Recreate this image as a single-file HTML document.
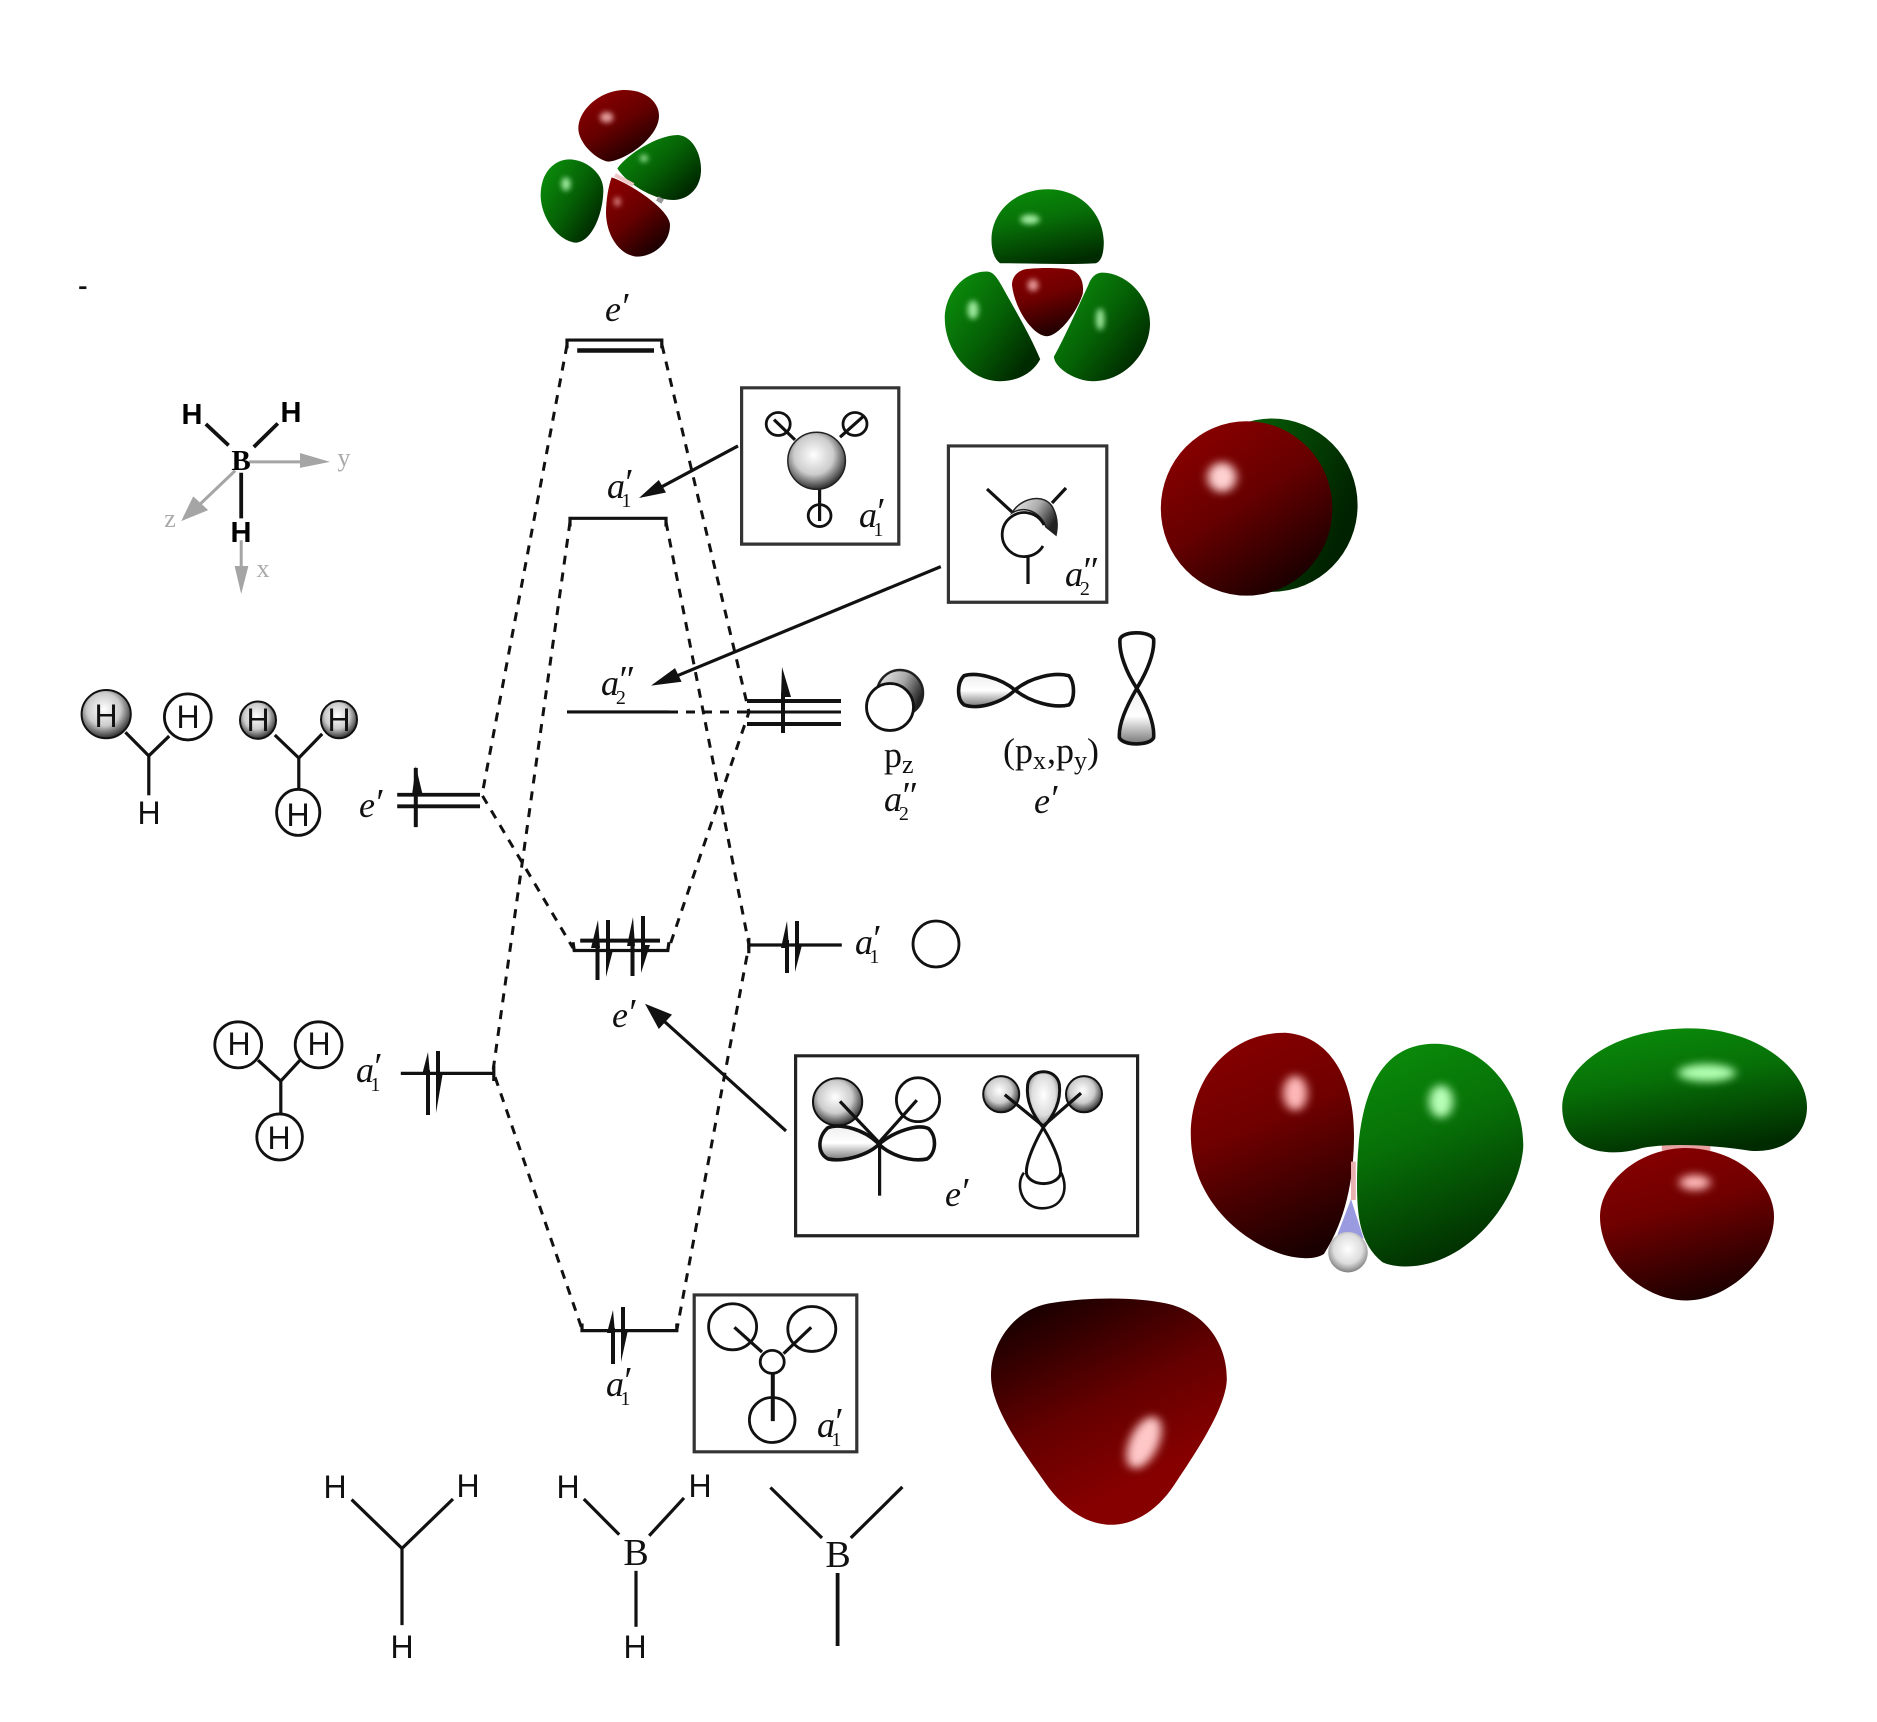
<!DOCTYPE html>
<html><head><meta charset="utf-8"><style>
html,body{margin:0;padding:0;background:#fff}
svg{display:block}
line,path,polyline,ellipse,polygon,rect{vector-effect:non-scaling-stroke}
.k{stroke:#111;fill:none;stroke-width:3.2}
.k line,.k path,.k polyline{fill:none}
.w{fill:#fff;stroke:#111;stroke-width:2.8}
.d{stroke:#111;stroke-width:3;fill:none;stroke-dasharray:9 8}
.i{font-family:"Liberation Serif",serif;font-style:italic;font-size:36px;fill:#111}
.s{font-family:"Liberation Serif",serif;font-style:normal;font-size:20px}
.p{font-family:"Liberation Serif",serif;font-style:italic;font-size:38px}
.h{font-family:"Liberation Sans",sans-serif;font-size:32px;fill:#111;text-anchor:middle}
.b{font-family:"Liberation Sans",sans-serif;font-size:29px;font-weight:bold;fill:#000;text-anchor:middle}
.r{font-family:"Liberation Serif",serif;font-size:38px;fill:#111;text-anchor:middle}
.g{font-family:"Liberation Serif",serif;font-size:26px;fill:#aaa;text-anchor:middle}
.t{font-family:"Liberation Serif",serif;font-size:36px;fill:#111}
</style></head><body>
<svg width="1877" height="1722" viewBox="0 0 1877 1722" xmlns="http://www.w3.org/2000/svg">
<defs>
<linearGradient id="rv" x1=".3" y1="0" x2=".6" y2="1"><stop offset="0" stop-color="#860000"/><stop offset=".4" stop-color="#700000"/><stop offset="1" stop-color="#1a0000"/></linearGradient>
<linearGradient id="rb" x1=".25" y1=".02" x2=".65" y2=".8"><stop offset="0" stop-color="#1c0000"/><stop offset=".55" stop-color="#640000"/><stop offset="1" stop-color="#860000"/></linearGradient>
<linearGradient id="rs" x1=".2" y1=".1" x2=".75" y2=".95"><stop offset="0" stop-color="#860000"/><stop offset=".45" stop-color="#660000"/><stop offset="1" stop-color="#1a0000"/></linearGradient>
<linearGradient id="gv" x1=".3" y1="0" x2=".6" y2="1"><stop offset="0" stop-color="#0a8a0a"/><stop offset=".4" stop-color="#077007"/><stop offset="1" stop-color="#002a00"/></linearGradient>
<linearGradient id="gd" x1=".1" y1=".2" x2=".85" y2=".85"><stop offset="0" stop-color="#0a860a"/><stop offset=".5" stop-color="#056005"/><stop offset="1" stop-color="#002a00"/></linearGradient>
<linearGradient id="gs" x1="0" y1="0" x2="1" y2=".4"><stop offset="0" stop-color="#0a7a0a"/><stop offset="1" stop-color="#002200"/></linearGradient>
<radialGradient id="o" cx=".45" cy=".4" r=".62"><stop offset="0" stop-color="#fff"/><stop offset=".55" stop-color="#ccc"/><stop offset="1" stop-color="#222"/></radialGradient>
<radialGradient id="o2" cx=".5" cy=".42" r=".6"><stop offset="0" stop-color="#fff"/><stop offset=".6" stop-color="#ddd"/><stop offset="1" stop-color="#777"/></radialGradient>
<linearGradient id="cr" x1="0" y1="0" x2="1" y2=".5"><stop offset="0" stop-color="#f4f4f4"/><stop offset=".55" stop-color="#aaa"/><stop offset="1" stop-color="#222"/></linearGradient>
<linearGradient id="l" x1="0" y1="0" x2="0" y2="1"><stop offset="0" stop-color="#eee"/><stop offset=".5" stop-color="#fff"/><stop offset="1" stop-color="#777"/></linearGradient>
<filter id="bl" x="-150%" y="-150%" width="400%" height="400%"><feGaussianBlur stdDeviation="8"/></filter>
<filter id="bs" x="-150%" y="-150%" width="400%" height="400%"><feGaussianBlur stdDeviation="5"/></filter>
</defs>

<!-- dashed connectors -->
<g class="d">
<path d="M567 345L482 795L573 948"/>
<path d="M662 345L749 712L669 948"/>
<path d="M570 522L493 1071L582 1329"/>
<path d="M666 522L749 945L677 1329"/>
<path d="M669 712H749"/>
</g>

<!-- top four-lobed orbital -->
<g transform="translate(540 80) scale(.3333)">
<path fill="url(#rs)" d="M205 245C170 240 115 190 115 145C115 90 180 30 255 30C315 30 357 65 357 108C357 170 260 240 205 245Z"/>
<path fill="url(#gd)" d="M232 265C260 225 350 165 415 165C460 170 485 225 483 275C480 330 440 360 400 360C340 360 260 310 232 265Z"/>
<path fill="url(#gd)" d="M2 345C2 280 40 238 90 238C140 240 190 280 190 330C190 400 155 488 105 488C50 480 2 410 2 345Z"/>
<path d="M352 355L368 365" stroke="#999" stroke-width="5"/>
<path d="M225 285L280 315" stroke="#f0c8c8" stroke-width="4"/>
<path fill="url(#rs)" d="M215 292C270 310 390 390 390 435C390 490 340 530 290 530C240 525 200 470 198 400C198 360 205 320 215 292Z"/>
<g filter="url(#bl)" opacity=".85"><ellipse cx="200" cy="112" rx="20" ry="16" fill="#f8b8b8"/><ellipse cx="232" cy="365" rx="10" ry="14" fill="#f0a0a0"/><ellipse cx="312" cy="235" rx="12" ry="11" fill="#b0f8b0"/><ellipse cx="78" cy="312" rx="14" ry="20" fill="#b8ffb8"/></g>
</g>

<!-- Q1 -->
<g transform="scale(.6 .5485)">
<rect x="132" y="522" width="12" height="5" fill="#111"/>

<!-- BH3 axes -->
<g stroke="#a5a5a5" stroke-width="3" fill="#a5a5a5">
<line x1="415" y1="842" x2="510" y2="842"/><polygon points="500,826 550,842 500,853" stroke="none"/>
<line x1="392" y1="858" x2="325" y2="928"/><polygon points="302,950 322,905 347,930" stroke="none"/>
<line x1="402" y1="985" x2="402" y2="1040"/><polygon points="402,1083 391,1032 414,1032" stroke="none"/>
</g>
<g class="k" style="stroke-width:3.8">
<line x1="343" y1="773" x2="381" y2="812"/><line x1="463" y1="772" x2="423" y2="815"/><line x1="402" y1="862" x2="402" y2="945"/>
</g>

<!-- top levels -->
<g class="k">
<path d="M945 635V620H1103V635"/>
<line x1="962" y1="639" x2="1090" y2="639" style="stroke-width:4.5"/>
<path d="M950 960V945H1110V960"/>
<line x1="945" y1="1298" x2="1115" y2="1298"/>
<line x1="662" y1="1449" x2="800" y2="1449" style="stroke-width:3.8"/><line x1="662" y1="1470" x2="800" y2="1470" style="stroke-width:3.8"/>
<line x1="693" y1="1508" x2="693" y2="1400" style="stroke-width:4"/>
</g>
<polygon points="693,1397 704,1447 687,1447" fill="#111"/>

<!-- arrows -->
<g stroke="#111" stroke-width="3.2">
<line x1="1230" y1="813" x2="1085" y2="898"/><line x1="1568" y1="1033" x2="1120" y2="1236"/>
</g>
<polygon points="1065,908 1098,875 1110,898" fill="#111"/>
<polygon points="1085,1250 1125,1218 1136,1243" fill="#111"/>

<!-- a1' box -->
<rect x="1236" y="707" width="262" height="285" fill="none" stroke="#333" stroke-width="3.2"/>
<ellipse class="w" cx="1297" cy="773" rx="20" ry="21"/><ellipse class="w" cx="1425" cy="773" rx="20" ry="21"/><ellipse class="w" cx="1366" cy="940" rx="19" ry="20"/>
<g class="k"><line x1="1290" y1="765" x2="1325" y2="802"/><line x1="1438" y1="760" x2="1400" y2="797"/><line x1="1366" y1="890" x2="1366" y2="950"/></g>
<ellipse cx="1361" cy="840" rx="48" ry="52" fill="url(#o)" stroke="#222" stroke-width="1.5"/>

<!-- molecules -->
<g class="k">
<path d="M209 1335L248 1378L282 1342"/><line x1="248" y1="1378" x2="248" y2="1450"/>
<path d="M458 1340L498 1382L537 1338"/><line x1="498" y1="1382" x2="498" y2="1442"/>
</g>
<ellipse cx="177" cy="1302" rx="41" ry="44" fill="url(#o)" stroke="#111" stroke-width="2"/>
<ellipse class="w" cx="313" cy="1307" rx="39" ry="42"/>
<ellipse cx="430" cy="1313" rx="30" ry="34" fill="url(#o)" stroke="#111" stroke-width="2"/>
<ellipse cx="565" cy="1312" rx="30" ry="34" fill="url(#o)" stroke="#111" stroke-width="2"/>
<ellipse class="w" cx="497" cy="1481" rx="36" ry="42"/>
</g>

<!-- triple level + pz -->
<g stroke="#111">
<line x1="747" y1="701" x2="841" y2="701" stroke-width="4"/><line x1="745" y1="712" x2="841" y2="712" stroke-width="3"/><line x1="747" y1="724" x2="841" y2="724" stroke-width="4"/>
<line x1="783" y1="693" x2="783" y2="733" stroke-width="4"/>
</g>
<polygon points="782,667 781,697 791,697" fill="#111"/>
<circle cx="900" cy="693" r="23" fill="url(#cr)" stroke="#222" stroke-width="2.5"/>
<circle cx="890" cy="707" r="23.5" class="w"/>

<!-- electron arrows -->
<g stroke="#111" stroke-width="4">
<line x1="597.5" y1="945" x2="597.5" y2="980"/><line x1="608" y1="920" x2="608" y2="950"/>
<line x1="632.5" y1="945" x2="632.5" y2="976"/><line x1="643" y1="916" x2="643" y2="946"/>
<line x1="787" y1="940" x2="787" y2="973"/><line x1="797" y1="921" x2="797" y2="948"/>
<line x1="428" y1="1070" x2="428" y2="1115"/><line x1="438" y1="1051" x2="438" y2="1075"/>
<line x1="613" y1="1328" x2="613" y2="1364"/><line x1="623" y1="1307" x2="623" y2="1332"/>
</g>
<g fill="#111">
<polygon points="598,920 591,948 600,948"/><polygon points="606,977 606,948 613,950"/>
<polygon points="633,917 627,946 635,946"/><polygon points="641,973 641,945 650,945"/>
<polygon points="787,921 781,948 789,948"/><polygon points="795,972 795,945 802,945"/>
<polygon points="428,1052 422,1075 430,1075"/><polygon points="436,1113 436,1072 443,1072"/>
<polygon points="613,1310 607,1333 615,1333"/><polygon points="621,1362 621,1330 628,1330"/>
</g>

<!-- Q2 -->
<g transform="translate(940 0) scale(.6 .5485)">
<path fill="url(#gv)" d="M100 480C88 470 85 450 86 430C90 380 130 345 180 345C235 345 272 390 273 440C273 460 270 475 260 480C210 483 150 480 100 480Z"/>
<path fill="url(#rv)" d="M120 520C120 500 135 490 150 490C170 488 200 488 220 492C235 500 240 515 238 535C230 565 200 612 178 613C155 612 125 565 120 520Z"/>
<path fill="url(#gd)" d="M8 580C8 540 35 495 78 495C90 495 97 510 105 525C125 565 150 610 167 655C155 680 130 695 100 695C50 695 8 640 8 580Z"/>
<path fill="url(#gd)" d="M270 497C310 497 350 540 350 590C350 640 310 695 255 695C225 695 190 670 190 650C210 610 230 560 247 520C252 505 260 497 270 497Z"/>
<g filter="url(#bs)" opacity=".85"><ellipse cx="150" cy="400" rx="16" ry="9" fill="#b8ffb8"/><ellipse cx="155" cy="520" rx="9" ry="11" fill="#f8b0b0"/><ellipse cx="55" cy="565" rx="9" ry="17" fill="#b8ffb8"/><ellipse cx="267" cy="582" rx="7" ry="20" fill="#b8ffb8"/></g>

<ellipse cx="553" cy="921" rx="143" ry="158" fill="url(#gs)"/>
<ellipse cx="511" cy="927" rx="143" ry="159" fill="url(#rs)"/>
<ellipse cx="470" cy="870" rx="24" ry="27" fill="#ffd0d0" filter="url(#bl)"/>

<!-- a2'' box -->
<rect x="14" y="813" width="264" height="285" fill="none" stroke="#333" stroke-width="3.2"/>

<!-- px, py -->
<path d="M125 1258C100 1235 60 1225 40 1232C28 1245 28 1275 40 1285C65 1295 105 1280 125 1258Z" fill="url(#l)" stroke="#111" stroke-width="3.6"/>
<path d="M125 1258C150 1235 190 1225 215 1232C225 1245 225 1275 215 1285C190 1292 150 1280 125 1258Z" fill="#fff" stroke="#111" stroke-width="3.6"/>
<path d="M328 1255C310 1225 298 1190 300 1165C305 1150 350 1150 356 1165C358 1190 345 1225 328 1255Z" fill="#fff" stroke="#111" stroke-width="3.6"/>
<path d="M328 1255C345 1285 358 1320 356 1345C350 1360 305 1360 299 1345C297 1320 312 1285 328 1255Z" fill="url(#l)" stroke="#111" stroke-width="3.6"/>
</g>

<!-- a2'' box drawing -->
<g class="k"><line x1="987" y1="489" x2="1012" y2="512"/><line x1="1066" y1="488" x2="1052" y2="503"/><line x1="1028" y1="555" x2="1028" y2="584"/></g>
<path d="M1012 513C1020 498 1045 492 1053 508C1059 520 1057 530 1056 535L1046 527C1040 512 1025 505 1012 513Z" fill="url(#cr)" stroke="#222" stroke-width="1.5"/>
<path d="M1043 546A22 22 0 1 1 1044 525" fill="none" stroke="#111" stroke-width="2.8"/>

<!-- Q3 -->
<g transform="translate(0 860) scale(.6 .5485)">
<g class="k">
<path d="M955 150L957 165H1113L1115 150"/>
<line x1="967" y1="147" x2="1100" y2="147" style="stroke-width:4"/>
<path d="M1248 142V170M1248 155H1403"/>
<path d="M668 389H822M823 375V403"/>
<path d="M970 845V858H1128V845"/>
</g>

<!-- arrow to lower e' -->
<line x1="1310" y1="494" x2="1105" y2="292" stroke="#111" stroke-width="3.2"/>
<polygon points="1075,262 1120,282 1098,308" fill="#111"/>

<!-- left a1' molecule -->
<g class="k"><path d="M430 365L468 403L500 365"/><line x1="468" y1="403" x2="468" y2="465"/></g>
<ellipse class="w" cx="397" cy="337" rx="39" ry="42"/><ellipse class="w" cx="531" cy="337" rx="39" ry="42"/><ellipse class="w" cx="466" cy="505" rx="38" ry="42"/>

<!-- bottom box -->
<rect x="1157" y="793" width="271" height="286" fill="none" stroke="#333" stroke-width="3.2"/>
<ellipse class="w" cx="1221" cy="851" rx="40" ry="42"/><ellipse class="w" cx="1353" cy="855" rx="40" ry="41"/><ellipse class="w" cx="1287" cy="1021" rx="38" ry="41"/>
<g class="k"><line x1="1224" y1="852" x2="1270" y2="897"/><line x1="1352" y1="852" x2="1306" y2="900"/><line x1="1288" y1="935" x2="1288" y2="1023" style="stroke-width:4"/></g>
<ellipse class="w" cx="1287" cy="915" rx="20" ry="21"/>

<!-- e' box left -->
<rect x="1326" y="357" width="570" height="328" fill="none" stroke="#222" stroke-width="3.2"/>
<ellipse cx="1396" cy="441" rx="41" ry="43" fill="url(#o)" stroke="#111" stroke-width="2"/>
<ellipse class="w" cx="1530" cy="437" rx="36" ry="40"/>
<path d="M1465 518C1440 490 1400 480 1380 488C1362 505 1362 535 1380 545C1410 552 1450 535 1465 518Z" fill="url(#l)" stroke="#111" stroke-width="3.6"/>
<path d="M1465 518C1490 495 1530 480 1548 490C1562 505 1560 535 1545 545C1515 552 1480 535 1465 518Z" fill="#fff" stroke="#111" stroke-width="3.6"/>
<g class="k"><path d="M1400 440L1465 515L1528 438"/><line x1="1466" y1="515" x2="1466" y2="612"/></g>

<!-- bottom structures -->
<g class="k">
<path d="M586 1166L670 1255L755 1165"/><line x1="670" y1="1255" x2="670" y2="1395"/>
<line x1="973" y1="1165" x2="1032" y2="1230"/><line x1="1140" y1="1163" x2="1082" y2="1232"/><line x1="1060" y1="1296" x2="1060" y2="1398"/>
<line x1="1284" y1="1144" x2="1370" y2="1236"/><line x1="1504" y1="1143" x2="1418" y2="1236"/><line x1="1396" y1="1300" x2="1396" y2="1433" style="stroke-width:3.8"/>
</g>
</g>

<!-- Q4 -->
<g transform="translate(940 860) scale(.6 .5485)">
<ellipse cx="102" cy="427" rx="30" ry="33" fill="url(#o)" stroke="#111" stroke-width="2"/>
<ellipse cx="240" cy="427" rx="30" ry="33" fill="url(#o)" stroke="#111" stroke-width="2"/>
<path d="M172 488C155 465 143 440 146 410C150 378 195 378 199 410C202 440 190 465 172 488Z" fill="url(#o2)" stroke="#111" stroke-width="3"/>
<path d="M140 570C125 590 135 635 170 635C205 635 215 600 202 570" fill="#fff" stroke="#111" stroke-width="2.6"/>
<path d="M172 488C155 520 140 560 145 575C155 595 190 595 200 575C205 560 190 520 172 488Z" fill="#fff" stroke="#111" stroke-width="3"/>
<g class="k"><path d="M108 428L172 485L235 425"/></g>

<path fill="url(#rv)" d="M640 718C625 730 590 728 560 715C490 685 418 610 418 500C418 400 480 315 575 315C650 320 690 400 690 500C690 570 680 650 640 718Z"/>
<path fill="url(#gv)" d="M737 733C700 700 695 650 695 590C695 480 710 335 825 335C910 335 975 430 972 525C965 620 880 742 775 741C760 741 745 738 737 733Z"/>
<rect x="685" y="550" width="8" height="70" fill="#e8b0b0"/>
<polygon points="685,618 660,690 706,690" fill="#9a9ae0"/>
<ellipse cx="680" cy="715" rx="33" ry="37" fill="url(#o2)"/>

<path fill="#e8a0a0" d="M1203 516H1284V530H1203Z"/>
<path fill="url(#rv)" d="M1100 650C1100 590 1160 528 1240 525C1330 525 1390 590 1390 650C1390 730 1310 803 1245 803C1170 803 1100 730 1100 650Z"/>
<path fill="url(#gv)" d="M1037 450C1040 370 1130 307 1250 307C1360 307 1445 380 1445 450C1445 510 1395 535 1350 530C1290 520 1220 515 1170 525C1110 545 1037 530 1037 450Z"/>

<path fill="url(#rb)" d="M85 940C85 880 125 815 190 807C250 797 320 797 370 807C440 820 478 880 478 945C478 1000 420 1090 390 1140C360 1190 320 1212 285 1212C250 1212 210 1190 175 1135C140 1080 85 1000 85 940Z"/>

<g filter="url(#bl)">
<ellipse cx="592" cy="425" rx="20" ry="32" fill="#ffb8b8"/>
<ellipse cx="835" cy="440" rx="20" ry="30" fill="#b8ffb8"/>
<ellipse cx="1278" cy="388" rx="48" ry="16" fill="#b0ffb0"/>
<ellipse cx="1258" cy="588" rx="26" ry="14" fill="#ffb8b8"/>
<ellipse cx="340" cy="1062" rx="24" ry="50" transform="rotate(22 340 1062)" fill="#ffc8c8"/>
</g>
</g>

<circle cx="936" cy="944" r="23" class="w"/>

<!-- Bold axes labels -->
<text class="b" x="192" y="424">H</text><text class="b" x="291" y="422">H</text>
<text class="b" x="241" y="470" style="font-family:'Liberation Serif',serif">B</text><text class="b" x="241" y="542">H</text>
<text class="g" x="344" y="466">y</text><text class="g" x="170" y="527">z</text><text class="g" x="263" y="577">x</text>

<!-- H labels -->
<text class="h" x="106" y="727">H</text><text class="h" x="188" y="728">H</text><text class="h" x="149" y="824">H</text>
<text class="h" x="258" y="731">H</text><text class="h" x="339" y="731">H</text><text class="h" x="298" y="826">H</text>
<text class="h" x="239" y="1055">H</text><text class="h" x="319" y="1055">H</text><text class="h" x="279" y="1149">H</text>
<text class="h" x="335" y="1498">H</text><text class="h" x="468" y="1497">H</text><text class="h" x="402" y="1658">H</text>
<text class="h" x="568" y="1498">H</text><text class="h" x="700" y="1497">H</text><text class="h" x="635" y="1658">H</text>
<text class="r" x="636" y="1565">B</text><text class="r" x="838" y="1567">B</text>

<!-- symmetry labels -->
<text class="i" x="605" y="321">e<tspan class="p" dy="-2" dx="-1">′</tspan></text>
<text class="i" x="359" y="817">e<tspan class="p" dy="-2" dx="-1">′</tspan></text>
<text class="i" x="612" y="1027">e<tspan class="p" dy="-2" dx="-1">′</tspan></text>
<text class="i" x="1034" y="813">e<tspan class="p" dy="-2" dx="-1">′</tspan></text>
<text class="i" x="945" y="1206">e<tspan class="p" dy="-2" dx="-1">′</tspan></text>

<text class="i" x="607" y="498">a<tspan class="p" dy="-3" dx="-2">′</tspan><tspan class="s" dx="-10" dy="12">1</tspan></text>
<text class="i" x="859" y="527">a<tspan class="p" dy="-3" dx="-2">′</tspan><tspan class="s" dx="-10" dy="12">1</tspan></text>
<text class="i" x="356" y="1082">a<tspan class="p" dy="-3" dx="-2">′</tspan><tspan class="s" dx="-10" dy="12">1</tspan></text>
<text class="i" x="855" y="954">a<tspan class="p" dy="-3" dx="-2">′</tspan><tspan class="s" dx="-10" dy="12">1</tspan></text>
<text class="i" x="606" y="1396">a<tspan class="p" dy="-3" dx="-2">′</tspan><tspan class="s" dx="-10" dy="12">1</tspan></text>
<text class="i" x="817" y="1437">a<tspan class="p" dy="-3" dx="-2">′</tspan><tspan class="s" dx="-10" dy="12">1</tspan></text>
<text class="i" x="601" y="695">a<tspan class="p" dy="-3" dx="-2">″</tspan><tspan class="s" dx="-17" dy="12">2</tspan></text>
<text class="i" x="884" y="811">a<tspan class="p" dy="-3" dx="-2">″</tspan><tspan class="s" dx="-17" dy="12">2</tspan></text>
<text class="i" x="1065" y="586">a<tspan class="p" dy="-3" dx="-2">″</tspan><tspan class="s" dx="-17" dy="12">2</tspan></text>

<text class="t" x="884" y="767">p<tspan style="font-size:26px" dy="6">z</tspan></text>
<text class="t" x="1003" y="763">(p<tspan style="font-size:26px" dy="6">x</tspan><tspan dy="-6" dx="1">,</tspan>p<tspan style="font-size:26px" dy="6">y</tspan><tspan dy="-6">)</tspan></text>
</svg>
</body></html>
